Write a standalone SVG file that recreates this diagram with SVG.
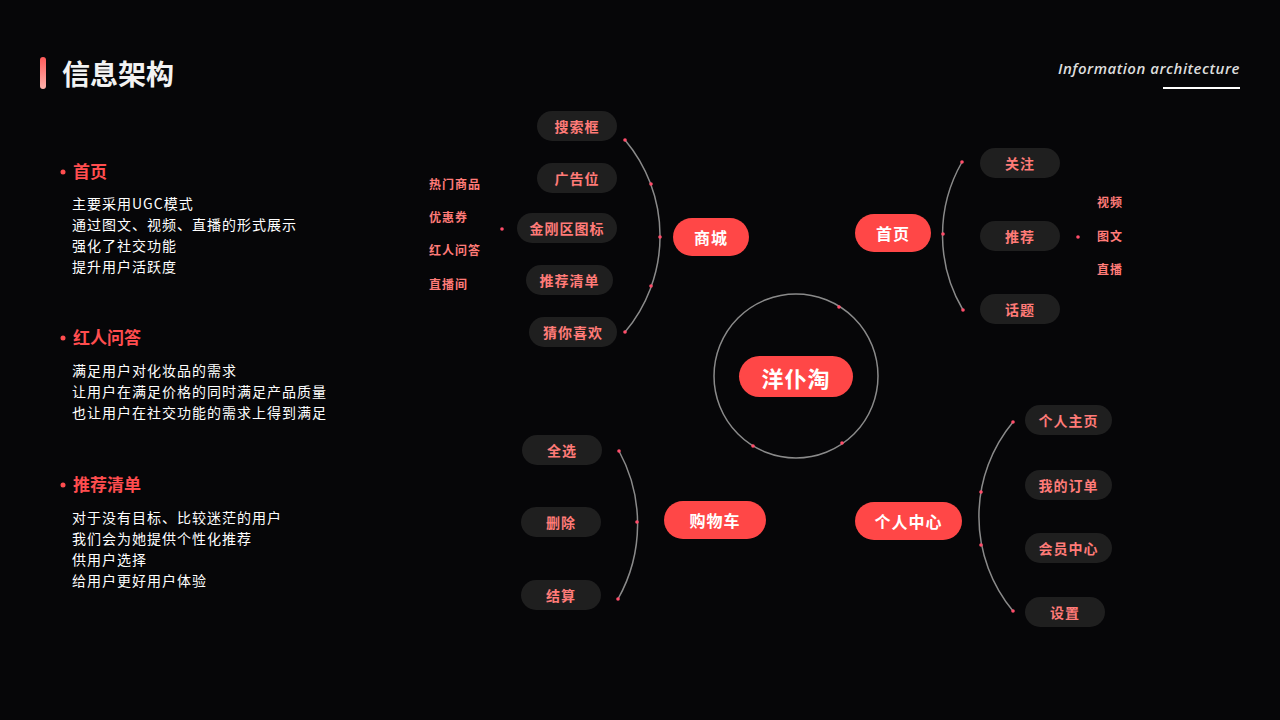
<svg xmlns="http://www.w3.org/2000/svg" width="1280" height="720" viewBox="0 0 1280 720">
<defs>
<linearGradient id="bar" x1="0" y1="0" x2="0" y2="1"><stop offset="0" stop-color="#ff5a5a"/><stop offset="1" stop-color="#ffb3ad"/></linearGradient>
<style>
text{font-family:"Noto Sans CJK SC","Noto Sans",sans-serif}
.pill{fill:#1f1f1f}
.pt{fill:#ff7b78;font-size:14px;font-weight:bold;text-anchor:middle;dominant-baseline:central;letter-spacing:1px}
.red{fill:#ff4747}
.rt{fill:#fff;font-size:16px;font-weight:bold;text-anchor:middle;dominant-baseline:central;letter-spacing:1px}
.sm{fill:#ff7b78;font-size:12px;font-weight:bold;letter-spacing:1px}
.arc{fill:none;stroke:#8a8a8a;stroke-width:1.5}
.dot{fill:#ff4d6a}
.h{fill:#ff4d4f;font-size:17px;font-weight:bold}
.b{fill:#fff;font-size:14px;letter-spacing:1px}
</style>
</defs>
<rect width="1280" height="720" fill="#060608"/>
<rect x="40" y="57" width="6" height="32" rx="3" fill="url(#bar)"/>
<text x="62" y="85" font-size="28" font-weight="bold" fill="#f2f2f2">信息架构</text>
<text x="1240" y="74" text-anchor="end" font-style="italic" font-size="15" fill="#ddd" style="font-family:'Open Sans',sans-serif;font-weight:600;letter-spacing:0.5px">Information architecture</text>
<rect x="1163" y="87" width="77" height="2" fill="#fff"/>
<circle cx="63" cy="172" r="2.5" fill="#ff4d4f"/>
<text class="h" x="73" y="178">首页</text>
<text class="b" x="72" y="209">主要采用UGC模式</text>
<text class="b" x="72" y="230">通过图文、视频、直播的形式展示</text>
<text class="b" x="72" y="251">强化了社交功能</text>
<text class="b" x="72" y="272">提升用户活跃度</text>
<circle cx="63" cy="338" r="2.5" fill="#ff4d4f"/>
<text class="h" x="73" y="344">红人问答</text>
<text class="b" x="72" y="376">满足用户对化妆品的需求</text>
<text class="b" x="72" y="397">让用户在满足价格的同时满足产品质量</text>
<text class="b" x="72" y="418">也让用户在社交功能的需求上得到满足</text>
<circle cx="63" cy="485" r="2.5" fill="#ff4d4f"/>
<text class="h" x="73" y="491">推荐清单</text>
<text class="b" x="72" y="523">对于没有目标、比较迷茫的用户</text>
<text class="b" x="72" y="544">我们会为她提供个性化推荐</text>
<text class="b" x="72" y="565">供用户选择</text>
<text class="b" x="72" y="586">给用户更好用户体验</text>
<g id="connectors">
<circle cx="796" cy="376" r="82" class="arc"/>
<path class="arc" d="M625,140 A149,149 0 0 1 625,332"/>
<path class="arc" d="M962,162 A147,147 0 0 0 963,310"/>
<path class="arc" d="M619,451 A153,153 0 0 1 618,599"/>
<path class="arc" d="M1013,422 A148,148 0 0 0 1013,611"/>
<g class="dot">
<circle cx="625" cy="140" r="1.8"/><circle cx="651" cy="184" r="1.8"/><circle cx="660" cy="237" r="1.8"/><circle cx="651" cy="286" r="1.8"/><circle cx="625" cy="332" r="1.8"/>
<circle cx="962" cy="162" r="1.8"/><circle cx="943" cy="234" r="1.8"/><circle cx="963" cy="310" r="1.8"/>
<circle cx="619" cy="451" r="1.8"/><circle cx="637" cy="522" r="1.8"/><circle cx="618" cy="599" r="1.8"/>
<circle cx="1013" cy="422" r="1.8"/><circle cx="981" cy="492" r="1.8"/><circle cx="981" cy="545" r="1.8"/><circle cx="1013" cy="611" r="1.8"/>
<circle cx="839" cy="307" r="1.8"/><circle cx="753" cy="446" r="1.8"/><circle cx="842" cy="443" r="1.8"/>
<circle cx="502" cy="229" r="1.8"/><circle cx="1078" cy="237" r="1.8"/>
</g>
</g>
<g id="center"><rect class="red" x="739" y="356" width="114" height="41" rx="20.5"/><text class="rt" x="796" y="376.5" style="font-size:22px">洋仆淘</text></g>
<g id="shangcheng"><rect class="red" x="673" y="218" width="76" height="38" rx="19"/><text class="rt" x="711" y="237">商城</text></g>
<g id="shouye"><rect class="red" x="855" y="214" width="76" height="38" rx="19"/><text class="rt" x="893" y="233">首页</text></g>
<g id="gouwuche"><rect class="red" x="664" y="501" width="102" height="38" rx="19"/><text class="rt" x="715" y="520">购物车</text></g>
<g id="gerenzhongxin"><rect class="red" x="855" y="502" width="107" height="38" rx="19"/><text class="rt" x="908.5" y="521">个人中心</text></g>
<g id="n1"><rect class="pill" x="537" y="111" width="80" height="30" rx="15"/><text class="pt" x="577" y="126">搜索框</text></g>
<g id="n2"><rect class="pill" x="537" y="163" width="80" height="30" rx="15"/><text class="pt" x="577" y="178">广告位</text></g>
<g id="n3"><rect class="pill" x="517" y="213" width="100" height="30" rx="15"/><text class="pt" x="567" y="228">金刚区图标</text></g>
<g id="n4"><rect class="pill" x="526" y="265" width="87" height="30" rx="15"/><text class="pt" x="569.5" y="280">推荐清单</text></g>
<g id="n5"><rect class="pill" x="529" y="317" width="88" height="30" rx="15"/><text class="pt" x="573" y="332">猜你喜欢</text></g>
<g id="s1"><text class="sm" x="429" y="189">热门商品</text><text class="sm" x="429" y="222">优惠券</text><text class="sm" x="429" y="255">红人问答</text><text class="sm" x="429" y="289">直播间</text></g>
<g id="n6"><rect class="pill" x="980" y="148" width="80" height="30" rx="15"/><text class="pt" x="1020" y="163">关注</text></g>
<g id="n7"><rect class="pill" x="980" y="221" width="80" height="30" rx="15"/><text class="pt" x="1020" y="236">推荐</text></g>
<g id="n8"><rect class="pill" x="980" y="294" width="80" height="30" rx="15"/><text class="pt" x="1020" y="309">话题</text></g>
<g id="s2"><text class="sm" x="1097" y="207">视频</text><text class="sm" x="1097" y="241">图文</text><text class="sm" x="1097" y="274">直播</text></g>
<g id="n9"><rect class="pill" x="522" y="435" width="80" height="30" rx="15"/><text class="pt" x="562" y="450">全选</text></g>
<g id="n10"><rect class="pill" x="521" y="507" width="80" height="30" rx="15"/><text class="pt" x="561" y="522">删除</text></g>
<g id="n11"><rect class="pill" x="521" y="580" width="80" height="30" rx="15"/><text class="pt" x="561" y="595">结算</text></g>
<g id="n12"><rect class="pill" x="1025" y="405" width="87" height="30" rx="15"/><text class="pt" x="1068.5" y="420">个人主页</text></g>
<g id="n13"><rect class="pill" x="1025" y="470" width="87" height="30" rx="15"/><text class="pt" x="1068.5" y="485">我的订单</text></g>
<g id="n14"><rect class="pill" x="1025" y="533" width="87" height="30" rx="15"/><text class="pt" x="1068.5" y="548">会员中心</text></g>
<g id="n15"><rect class="pill" x="1025" y="597" width="80" height="30" rx="15"/><text class="pt" x="1065" y="612">设置</text></g>
</svg>
